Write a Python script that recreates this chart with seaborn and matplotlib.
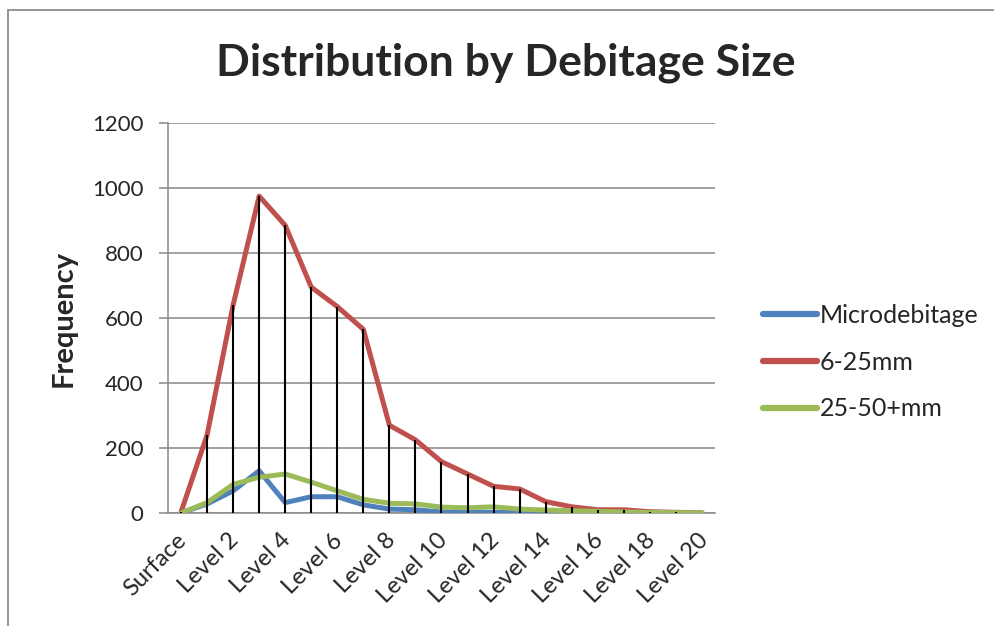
import matplotlib
matplotlib.use("Agg")
import matplotlib.pyplot as plt
import matplotlib.transforms as mtransforms
import pandas as pd
import seaborn as sns
from matplotlib.lines import Line2D

# categories (every level) and the three size classes
levels = ["Surface", "Level 1", "Level 2", "Level 3", "Level 4", "Level 5", "Level 6",
          "Level 7", "Level 8", "Level 9", "Level 10", "Level 11", "Level 12", "Level 13",
          "Level 14", "Level 15", "Level 16", "Level 17", "Level 18", "Level 19", "Level 20"]
micro = [0, 28, 68, 130, 32, 50, 50, 25, 12, 10, 3, 2, 2, 1, 1, 1, 0, 0, 0, 0, 0]
mm_6_25 = [3, 240, 640, 975, 885, 695, 635, 565, 270, 225, 158, 120, 82, 74, 35, 19, 10, 10, 4, 2, 1]
mm_25_50 = [0, 32, 88, 110, 120, 95, 68, 42, 30, 28, 18, 16, 19, 12, 9, 7, 5, 3, 2, 1, 1]
series_names = ["Microdebitage", "6-25mm", "25-50+mm"]
colors = ["#4F81BD", "#C0504D", "#9BBB59"]

pos = list(range(len(levels)))
df = pd.DataFrame({
    "pos": pos * 3,
    "value": micro + mm_6_25 + mm_25_50,
    "series": [s for s in series_names for _ in levels],
})

sns.set_style("white")
plt.rcParams["font.family"] = ["Lato", "DejaVu Sans"]

fig = plt.figure(figsize=(9.95, 6.26), dpi=100)
ax = fig.add_axes([168 / 995, 1 - 513 / 626, (715 - 168) / 995, (513 - 123) / 626])

# outer chart-area frame: only top and left edges are inside the picture
fig.add_artist(Line2D([8 / 995, 8 / 995], [0, 1 - 10 / 626], transform=fig.transFigure,
                      color="#8c8c8c", linewidth=1.3))
fig.add_artist(Line2D([8 / 995, 1], [1 - 10 / 626, 1 - 10 / 626], transform=fig.transFigure,
                      color="#8c8c8c", linewidth=1.3))

sns.lineplot(data=df, x="pos", y="value", hue="series", hue_order=series_names,
             palette=colors, linewidth=3.6, ax=ax, sort=False, zorder=3)

# drop lines from the highest series down to the axis
tops = [max(a, b, c) for a, b, c in zip(micro, mm_6_25, mm_25_50)]
ax.vlines(pos, 0, tops, color="black", linewidth=1.5, zorder=4)

ax.set_xlim(-0.5, len(levels) - 0.5)
ax.set_ylim(0, 1200)
ax.set_yticks(range(0, 1201, 200))
ax.yaxis.grid(True, color="#878787", linewidth=1.1)
ax.set_axisbelow(True)
ax.set_xticks(pos[::2])
ax.set_xticklabels(levels[::2], rotation=45, ha="right", rotation_mode="anchor", fontsize=17)
ax.tick_params(axis="x", length=0, pad=12)
shift = mtransforms.ScaledTranslation(-0.05, 0, fig.dpi_scale_trans)
for lab in ax.get_xticklabels():
    lab.set_transform(lab.get_transform() + shift)
ax.tick_params(axis="y", length=6.5, color="#878787", width=1.1, labelsize=16, pad=11, left=True)
for side in ["top", "right"]:
    ax.spines[side].set_visible(False)
for side in ["left", "bottom"]:
    ax.spines[side].set_color("#878787")
    ax.spines[side].set_linewidth(1.1)

ax.set_xlabel("")
ax.set_ylabel("Frequency", fontsize=21, fontweight="bold")
ax.yaxis.set_label_coords((77 - 168) / 547, 0.5)
fig.text(506 / 995, 1 - 63 / 626, "Distribution by Debitage Size", fontsize=32,
         fontweight="bold", ha="center", va="center")

leg = ax.legend(loc="center left", bbox_to_anchor=(1.07, (513 - 362) / 390), frameon=False,
                fontsize=18, handlelength=2.15, handletextpad=0.1, labelspacing=0.95,
                borderaxespad=0)
for line in leg.get_lines():
    line.set_linewidth(4.5)
    line.set_solid_capstyle("round")

fig.savefig("out.png", dpi=100)
